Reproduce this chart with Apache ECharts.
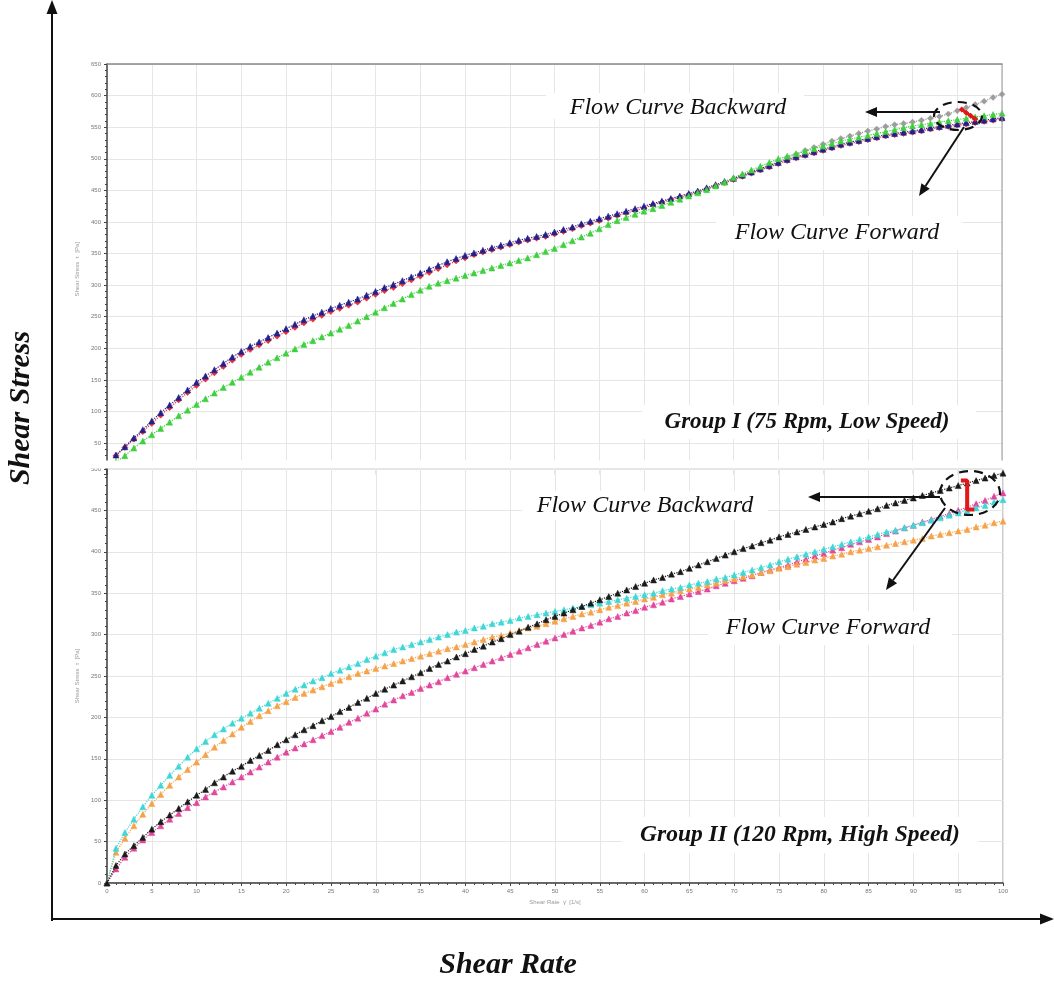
<!DOCTYPE html>
<html><head><meta charset="utf-8">
<script src="https://cdn.jsdelivr.net/npm/echarts/dist/echarts.min.js"></script>
<style>html,body{margin:0;padding:0;background:#fff}#c{width:1054px;height:983px}</style>
</head><body><div id="c"></div><script>
// Shear rate sample grid (1/s), one reading per unit
const shearRate = Array.from({length: 101}, (_, i) => i);
const topRate = shearRate.slice(1);      // 1..100
const greyRate = shearRate.slice(70);    // 70..100

// ---- Group I (75 rpm) shear stress [Pa] ----
const g1Navy = [31,44,58,71,85,98,110,122,134,146,
  156,166,176,186,195,203,210,217,224,231,
  238,245,251,257,263,268,273,278,284,290,
  296,301,307,313,319,325,331,337,342,347,
  351,355,359,363,367,371,374,377,380,384,
  388,392,397,401,405,409,413,417,421,425,
  429,433,437,441,445,449,454,459,464,469,
  474,479,484,489,494,499,503,507,511,515,
  519,523,526,529,532,535,538,540,542,544,
  546,549,551,553,555,557,559,561,563,565];
const g1Red = [30,43,56,68,81,94,106,118,130,141,
  151,161,171,181,190,198,205,212,219,226,
  233,240,246,252,258,263,268,273,279,285,
  291,296,302,308,314,320,326,332,338,343,
  348,352,356,360,364,368,371,374,377,381,
  385,389,394,398,402,406,410,414,418,422,
  427,431,435,439,443,447,452,457,462,467,
  472,477,482,487,492,497,501,505,509,513,
  517,521,524,527,530,533,536,538,540,542,
  544,547,549,551,553,555,557,559,561,563];
const g1Green = [20,30,42,53,63,73,83,93,102,111,
  120,129,138,146,154,162,170,178,185,192,
  199,206,212,218,224,230,236,243,250,257,
  264,271,278,285,292,298,303,307,311,315,
  319,323,327,331,335,339,343,348,353,358,
  364,370,376,382,389,396,402,407,412,417,
  421,426,431,436,441,446,451,457,463,470,
  476,482,488,494,500,504,508,512,516,520,
  524,528,531,534,537,540,543,546,549,552,
  554,556,558,560,562,564,566,568,570,572];
const g1Grey = [468,473,478,484,490,496,502,507,513,518,
  523,528,532,536,540,544,547,551,554,556,
  558,561,564,567,571,576,581,586,591,597,602];
const g1BackwardMark = [[95.5,578],[96,573],[96.5,568],[97,563]];

// ---- Group II (120 rpm) shear stress [Pa] ----
const g2Cyan = [0,42,61,77,92,106,118,130,141,152,162,
  171,179,186,193,199,205,211,217,223,229,
  234,239,244,248,253,257,261,265,270,274,
  278,282,285,288,291,294,297,300,303,305,
  308,310,313,315,317,320,322,324,326,328,
  330,332,334,336,338,340,342,344,346,348,
  350,353,355,357,360,362,364,367,369,372,
  375,378,381,384,388,391,394,397,400,403,
  406,409,412,415,418,421,424,426,429,432,
  435,438,441,444,447,450,453,456,460,463];
const g2Orange = [0,37,54,69,83,96,107,118,128,137,146,
  155,164,172,180,188,195,202,208,214,219,
  224,229,233,237,241,245,249,253,256,259,
  262,265,268,271,274,277,280,283,285,288,
  291,294,297,299,302,305,308,310,313,316,
  319,322,325,327,330,333,335,338,340,343,
  345,348,350,353,355,357,360,362,365,367,
  370,372,375,377,380,382,385,387,390,392,
  395,397,400,402,404,406,408,410,412,414,
  416,419,421,423,425,427,430,432,435,437];
const g2Black = [0,21,35,45,55,65,74,82,90,98,106,
  113,121,128,135,141,148,154,160,167,173,
  179,185,190,196,201,207,212,218,223,229,
  234,239,244,249,254,259,264,268,273,277,
  282,286,291,295,300,304,309,313,318,322,
  326,330,334,338,342,346,350,354,358,362,
  366,369,373,376,380,384,388,392,396,400,
  404,407,411,414,418,421,424,427,430,433,
  436,440,443,446,449,452,456,459,462,465,
  468,471,474,477,480,483,486,489,492,495];
const g2Magenta = [0,17,31,42,52,61,69,77,84,91,97,
  104,110,116,122,128,134,140,146,152,158,
  163,168,173,178,183,188,194,199,205,210,
  216,221,226,230,235,239,243,248,252,256,
  260,264,268,272,276,280,284,288,292,296,
  300,304,308,311,315,319,322,326,329,333,
  336,339,343,346,349,352,355,359,362,365,
  368,371,375,378,381,384,388,391,395,398,
  402,405,409,412,415,418,422,425,429,432,
  436,439,443,446,450,454,458,462,467,471];
const g2BackwardMark = [[95.3,486],[96,486],[96,451],[96.8,451]];

// tick settings
const xTicks = {min: 0, max: 100, interval: 5};
const g1Y = {min: 0, max: 650, interval: 50};
const g2Y = {min: 0, max: 500, interval: 50};

function mk(name, xs, ys, gi, color, symbol, z) {
  return {
    type: 'line', name, xAxisIndex: gi, yAxisIndex: gi,
    data: ys.map((v, i) => [xs[i], v]),
    symbol, symbolSize: 6, showSymbol: true, showAllSymbol: true,
    itemStyle: {color, borderColor: color, borderWidth: 0.5},
    lineStyle: {color, width: 1.2, type: 'dotted'},
    animation: false, z: z || 2, silent: true
  };
}

const serif = '"Liberation Serif", "DejaVu Serif", serif';
function arrow(x1, y1, x2, y2) {
  const a = Math.atan2(y2 - y1, x2 - x1), L = 12, W = 5;
  const bx = x2 - L * Math.cos(a), by = y2 - L * Math.sin(a);
  const px = -Math.sin(a) * W, py = Math.cos(a) * W;
  return [
    {type: 'line', z: 200, shape: {x1, y1, x2: bx, y2: by}, style: {stroke: '#111', lineWidth: 2}},
    {type: 'polygon', z: 200, shape: {points: [[x2, y2], [bx + px, by + py], [bx - px, by - py]]}, style: {fill: '#111'}}
  ];
}
function whiteBox(x, y, w, h) {
  return {type: 'rect', z: 150, shape: {x, y, width: w, height: h}, style: {fill: '#fff'}};
}
function label(text, x, y, font) {
  return {type: 'text', z: 160, style: {text, x, y, align: 'center', verticalAlign: 'middle', font, fill: '#111'}};
}
function ellipse(cx, cy, rx, ry) {
  return {type: 'ellipse', z: 200, shape: {cx, cy, rx, ry}, style: {fill: 'none', stroke: '#111', lineWidth: 2.2, lineDash: [9, 6]}};
}

const gridGrey = '#e6e6e6';
const tickLabel = {fontSize: 6, color: '#777', fontFamily: 'Arial, "Liberation Sans", sans-serif'};
const splitLineTop = {show: true, showMinLine: false, lineStyle: {color: gridGrey, width: 1}};
const splitLineAll = {show: true, lineStyle: {color: gridGrey, width: 1}};
const axisLine = {show: true, onZero: false, lineStyle: {color: '#444', width: 1.5}};

const chart = echarts.init(document.getElementById('c'), null, {renderer: 'canvas'});
chart.setOption({
  backgroundColor: '#fff',
  animation: false,
  grid: [
    {left: 107, top: 64, width: 895, height: 410.6, show: false},
    {left: 107, top: 469, width: 896, height: 414, show: true, borderColor: '#999', borderWidth: 1}
  ],
  xAxis: [
    {type: 'value', gridIndex: 0, ...xTicks, position: 'top',
     axisLine: {show: true, onZero: false, lineStyle: {color: '#888', width: 1.5}}, axisTick: {show: false}, axisLabel: {show: false},
     splitLine: splitLineAll},
    {type: 'value', gridIndex: 1, ...xTicks,
     axisLine, axisTick: {show: true, length: 3, lineStyle: {color: '#444'}},
     minorTick: {show: true, splitNumber: 5, length: 2, lineStyle: {color: '#444'}},
     axisLabel: {...tickLabel, margin: 5},
     name: 'Shear Rate  γ̇  [1/s]', nameLocation: 'middle', nameGap: 16,
     nameTextStyle: {fontSize: 6, color: '#999'},
     splitLine: splitLineAll}
  ],
  yAxis: [
    {type: 'value', gridIndex: 0, ...g1Y,
     axisLine, axisTick: {show: true, length: 3, lineStyle: {color: '#444'}},
     minorTick: {show: true, splitNumber: 5, length: 2, lineStyle: {color: '#444'}},
     axisLabel: {...tickLabel, margin: 6, formatter: v => v === 0 ? '' : String(v)},
     name: 'Shear Stress  τ  [Pa]', nameLocation: 'middle', nameGap: 24,
     nameTextStyle: {fontSize: 6, color: '#999'},
     splitLine: splitLineTop},
    {type: 'value', gridIndex: 1, ...g2Y,
     axisLine, axisTick: {show: true, length: 3, lineStyle: {color: '#444'}},
     minorTick: {show: true, splitNumber: 5, length: 2, lineStyle: {color: '#444'}},
     axisLabel: {...tickLabel, margin: 6},
     name: 'Shear Stress  τ  [Pa]', nameLocation: 'middle', nameGap: 24,
     nameTextStyle: {fontSize: 6, color: '#999'},
     splitLine: splitLineAll}
  ],
  series: [
    mk('Group I grey', greyRate, g1Grey, 0, '#9c9c9c', 'diamond', 2),
    mk('Group I red', topRate, g1Red, 0, '#e8303a', 'diamond', 3),
    mk('Group I navy', topRate, g1Navy, 0, '#22208a', 'triangle', 4),
    mk('Group I green', topRate, g1Green, 0, '#3fcf3f', 'triangle', 5),
    {type: 'line', xAxisIndex: 0, yAxisIndex: 0, data: g1BackwardMark, symbol: 'diamond', symbolSize: 6,
     itemStyle: {color: '#e01818'}, lineStyle: {color: '#e01818', width: 3}, z: 6, animation: false, silent: true},
    mk('Group II magenta', shearRate, g2Magenta, 1, '#e2479c', 'triangle', 2),
    mk('Group II orange', shearRate, g2Orange, 1, '#f5a24a', 'triangle', 3),
    mk('Group II cyan', shearRate, g2Cyan, 1, '#3fd6d6', 'triangle', 4),
    mk('Group II black', shearRate, g2Black, 1, '#1a1a1a', 'triangle', 5),
    {type: 'line', xAxisIndex: 1, yAxisIndex: 1, data: g2BackwardMark, symbol: 'none',
     lineStyle: {color: '#e01818', width: 4}, z: 6, animation: false, silent: true}
  ],
  graphic: [
    // cut off the bottom of the top panel
    {type: 'rect', z: 120, shape: {x: 60, y: 460.5, width: 960, height: 8}, style: {fill: '#fff'}},
    // right border of top panel
    {type: 'line', z: 120, shape: {x1: 1002, y1: 64, x2: 1002, y2: 460.5}, style: {stroke: '#999', lineWidth: 1}},
    // outer axes
    {type: 'line', z: 200, shape: {x1: 52, y1: 921, x2: 52, y2: 12}, style: {stroke: '#111', lineWidth: 2}},
    {type: 'polygon', z: 200, shape: {points: [[52, 0], [46.5, 14], [57.5, 14]]}, style: {fill: '#111'}},
    {type: 'line', z: 200, shape: {x1: 51, y1: 919, x2: 1040, y2: 919}, style: {stroke: '#111', lineWidth: 2}},
    {type: 'polygon', z: 200, shape: {points: [[1054, 919], [1040, 913.5], [1040, 924.5]]}, style: {fill: '#111'}},
    {type: 'text', z: 200, x: 21, y: 408, rotation: Math.PI / 2,
     style: {text: 'Shear Stress', x: 0, y: 0, align: 'center', verticalAlign: 'middle', font: 'italic bold 30px ' + serif, fill: '#111'}},
    {type: 'text', z: 200, style: {text: 'Shear Rate', x: 508, y: 965, align: 'center', verticalAlign: 'middle', font: 'italic bold 30px ' + serif, fill: '#111'}},
    // Group I annotations
    whiteBox(546, 93, 258, 26),
    label('Flow Curve Backward', 678, 108, 'italic 24px ' + serif),
    whiteBox(716, 216, 246, 34),
    label('Flow Curve Forward', 837, 233, 'italic 24px ' + serif),
    whiteBox(642, 405, 334, 34),
    label('Group I (75 Rpm, Low Speed)', 807, 422, 'italic bold 23px ' + serif),
    ellipse(958, 116, 24, 14),
    ...arrow(940, 112, 865, 112),
    ...arrow(964, 127, 919, 196),
    // Group II annotations
    whiteBox(522, 491, 246, 29),
    label('Flow Curve Backward', 645, 506, 'italic 24px ' + serif),
    whiteBox(708, 611, 244, 34),
    label('Flow Curve Forward', 828, 628, 'italic 24px ' + serif),
    whiteBox(622, 817, 356, 36),
    label('Group II (120 Rpm, High Speed)', 800, 835, 'italic bold 23.5px ' + serif),
    ellipse(970, 493, 30, 22),
    ...arrow(940, 497, 808, 497),
    ...arrow(945, 508, 886, 590)
  ]
});
</script></body></html>
